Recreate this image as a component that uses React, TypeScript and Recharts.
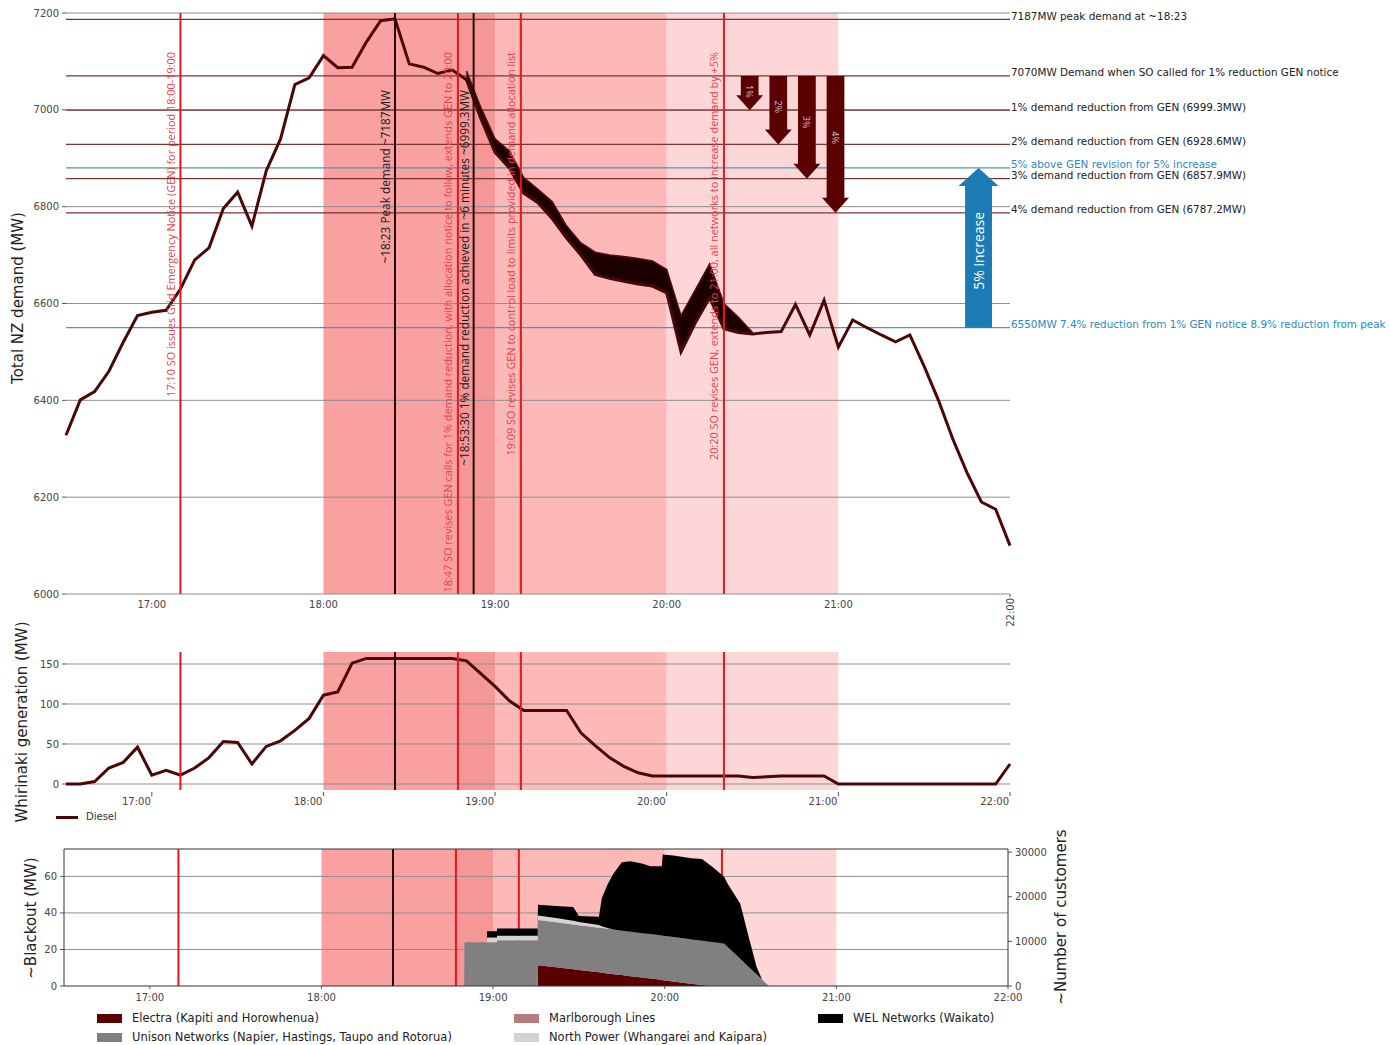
import React from "react";
import {
  ComposedChart,
  Line,
  Area,
  XAxis,
  YAxis,
  ReferenceLine,
  ReferenceArea,
} from "recharts";

const FONT = "'DejaVu Sans', sans-serif";
const NOTE_FONT = "'Open Sans', sans-serif";

// x axis is minutes after 16:30
const timeTicks = [30, 90, 150, 210, 270, 330];
const timeLabels = ["17:00", "18:00", "19:00", "20:00", "21:00", "22:00"];

// GEN periods shaded behind all three panels
const periodStarts = [90, 137, 150, 210];
const periodEnds = [137, 150, 210, 270];

// SO events
const eventMinutes = [40, 115, 137, 142.5, 159, 230];
const eventNotes = [
  "17:10 SO issues Grid Emergency Notice (GEN) for period 18:00-19:00",
  "~18:23 Peak demand ~7187MW",
  "18:47 SO revises GEN calls for 1% demand reduction, with allocation notice to follow, extends GEN to 20:00",
  "~18:53:30 1% demand reduction achieved in ~6 minutes ~6999.3MW",
  "19:09 SO revises GEN to control load to limits provided in demand allocation list",
  "20:20 SO revises GEN, extends to 21:00, all networks to increase demand by +5%",
];
const eventIsSO = [true, false, true, false, true, true];
const eventInLowerPanels = [true, true, true, false, true, true];

// total NZ demand, 5-minute samples from 16:30 to 22:00
const demandMW = [
  6328, 6401, 6418, 6460, 6520, 6575, 6582, 6586, 6630, 6690, 6715, 6796, 6830,
  6760, 6874, 6940, 7052, 7066, 7112, 7087, 7088, 7140, 7184, 7188, 7095, 7088,
  7075, 7082, 7062, 6982, 6912, 6880, 6828, 6808, 6775, 6735, 6700, 6660, 6652,
  6646, 6640, 6636, 6622, 6500, 6560, 6612, 6548, 6540, 6537, 6540, 6542, 6598,
  6535, 6607, 6510, 6566, 6550, 6535, 6521, 6535, 6470, 6400, 6320, 6250, 6190,
  6175, 6100,
];
const demandMinutes = demandMW.map((_, i) => i * 5);

// upper edge of the band during the demand reduction
const bandMinutes = [
  140, 145, 150, 155, 160, 165, 170, 175, 180, 185, 190, 195, 200, 205, 210,
  215, 220, 225, 230, 235, 240,
];
const bandHighMW = [
  7080, 7005, 6940, 6915, 6860, 6836, 6810, 6760, 6725, 6706, 6700, 6697, 6693,
  6688, 6670, 6575, 6628, 6682, 6600, 6572, 6540,
];

const demandTicks = [6000, 6200, 6400, 6600, 6800, 7000, 7200];
const refLevels = [7187, 7070, 6999.3, 6928.6, 6857.9, 6787.2];
const refTexts = [
  "7187MW peak demand at ~18:23",
  "7070MW Demand when SO called for 1% reduction GEN notice",
  "1% demand reduction from GEN (6999.3MW)",
  "2% demand reduction from GEN (6928.6MW)",
  "3% demand reduction from GEN (6857.9MW)",
  "4% demand reduction from GEN (6787.2MW)",
];
const blueLevels = [6880, 6550];
const blueTexts = [
  "5% above GEN revision for 5% increase",
  "6550MW 7.4% reduction from 1% GEN notice 8.9% reduction from peak",
];

// reduction arrows from the 7070MW level
const cutFromMW = 7070;
const cutLabels = ["1%", "2%", "3%", "4%"];
const cutTargets = [6999.3, 6928.6, 6857.9, 6787.2];
const cutMinutes = [239, 249, 259, 269];
const increaseFromMW = 6550;
const increaseToMW = 6880;
const increaseMinute = 319;

// Whirinaki diesel generation, 5-minute samples
const dieselMW = [
  0, 0, 3, 20, 27, 46, 11, 17, 11, 20, 33, 53, 52, 25, 47, 54, 67, 82, 111, 115,
  151, 157, 157, 157, 157, 157, 157, 157, 154, 138, 122, 104, 92, 92, 92, 92, 64,
  48, 33, 22, 14, 10, 10, 10, 10, 10, 10, 10, 8, 9, 10, 10, 10, 10, 0, 0, 0, 0, 0,
  0, 0, 0, 0, 0, 0, 0, 25,
];
const dieselTicks = [0, 50, 100, 150];

// blackout by network (MW, stacked)
const outageMinutes = [
  139.9, 140, 147.8, 147.9, 151.3, 151.4, 165.6, 165.7, 172, 178, 180, 187, 188,
  190, 192, 195, 198, 202, 205, 209, 209.3, 213, 217, 219.3, 223, 226.4, 230.7,
  232, 236.4, 239, 242.1, 244, 246.4,
];
const electraMW = [
  0, 0, 0, 0, 0, 0, 0, 11.4, 10.3, 9.2, 8.8, 7.5, 7.3, 6.9, 6.5, 6.0, 5.4, 4.7,
  4.1, 3.4, 3.2, 2.5, 1.7, 1.3, 0.6, 0, 0, 0, 0, 0, 0, 0, 0,
];
const unisonMW = [
  0, 24, 24, 24, 24, 25, 25, 24.7, 24.6, 24.5, 24.5, 24.4, 24.4, 24.4, 24.4,
  24.3, 24.3, 24.2, 24.3, 24.2, 24.3, 24.3, 24.3, 24.2, 24.2, 24.1, 23.3, 21.4,
  14.9, 11.0, 6.4, 3.6, 0,
];
const marlboroughMW = [
  0, 0, 0, 0, 0, 0, 0, 0, 0, 0, 0, 0, 0, 0, 0, 0, 0, 0, 0, 0, 0, 0, 0, 0, 0, 0,
  0, 0, 0, 0, 0, 0, 0,
];
const northPowerMW = [
  0, 0, 0, 2.5, 2.5, 2.5, 2.5, 2.5, 2.3, 2.0, 1.8, 1.5, 1.0, 0.5, 0, 0, 0, 0, 0,
  0, 0, 0, 0, 0, 0, 0, 0, 0, 0, 0, 0, 0, 0,
];
const welMW = [
  0, 0, 0, 3.5, 3.5, 4, 4, 5.9, 6.6, 7.5, 3.2, 4.5, 15.3, 23.8, 30.4, 37.5, 38.6,
  38.2, 37.2, 37.9, 44.5, 44.7, 44.5, 44.5, 44.7, 41.4, 36.7, 34.6, 30.1, 18,
  4.1, 0, 0,
];
const blackoutTicks = [0, 20, 40, 60];
const customerTicks = [0, 10000, 20000, 30000];

const networkNames = [
  "Electra (Kapiti and Horowhenua)",
  "Unison Networks (Napier, Hastings, Taupo and Rotorua)",
  "Marlborough Lines",
  "North Power (Whangarei and Kaipara)",
  "WEL Networks (Waikato)",
];

// styles
const SHADES = ["#f9a0a0", "#f69797", "#fdb8b8", "#fdd7d7"];
const NET_COLORS = ["#5a0000", "#808080", "#b47c7c", "#d3d3d3", "#000000"];
const RED = "#e8161b";
const DARK = "#2a0505";
const GRID = "#8f8f8f";

const demandRows = demandMinutes.map((m, i) => {
  const j = bandMinutes.indexOf(m);
  return {
    m,
    demand: demandMW[i],
    band: j >= 0 ? [demandMW[i], bandHighMW[j]] : undefined,
  };
});
const dieselRows = demandMinutes.map((m, i) => ({ m, diesel: dieselMW[i] }));
const outageRows = outageMinutes.map((m, i) => ({
  m,
  electra: electraMW[i],
  unison: unisonMW[i],
  marlborough: marlboroughMW[i],
  north: northPowerMW[i],
  wel: welMW[i],
}));

const labelFor = (v: number) => timeLabels[timeTicks.indexOf(v)] ?? "";

const TopTick = (p: any) => {
  const { x, y, payload } = p;
  if (payload.value === 330) {
    return (
      <g>
        <line x1={x} x2={x} y1={y} y2={y + 3} stroke="#555" />
        <text
          x={x}
          y={y + 4}
          transform={`rotate(-90 ${x} ${y + 4})`}
          textAnchor="end"
          dominantBaseline="central"
          fontSize={10}
          fill="#444"
          fontFamily={FONT}
        >
          {labelFor(payload.value)}
        </text>
      </g>
    );
  }
  return (
    <text x={x} y={y + 10} textAnchor="middle" dominantBaseline="central" fontSize={10} fill="#444" fontFamily={FONT}>
      {labelFor(payload.value)}
    </text>
  );
};

const MidTick = (p: any) => {
  const { x, y, payload } = p;
  return (
    <g>
      <line x1={x} x2={x} y1={y + 2} y2={y + 6} stroke="#555" />
      <text x={x - 1} y={y + 11} textAnchor="end" dominantBaseline="central" fontSize={10} fill="#444" fontFamily={FONT}>
        {labelFor(payload.value)}
      </text>
    </g>
  );
};

const BottomTick = (p: any) => {
  const { x, y, payload } = p;
  return (
    <g>
      <line x1={x} x2={x} y1={y} y2={y + 3} stroke="#555" />
      <text x={x} y={y + 11} textAnchor="middle" dominantBaseline="central" fontSize={10} fill="#444" fontFamily={FONT}>
        {labelFor(payload.value)}
      </text>
    </g>
  );
};

const sideLabel = (text: string, color: string) => (props: any) => {
  const vb = props.viewBox || {};
  return (
    <text
      x={(vb.x ?? 0) + (vb.width ?? 0) + 1}
      y={(vb.y ?? 0) - 3.5}
      dominantBaseline="central"
      fontSize={10.4}
      fill={color}
      fontFamily={FONT}
    >
      {text}
    </text>
  );
};

const eventLabel = (text: string, so: boolean) => (props: any) => {
  const vb = props.viewBox || {};
  const x = (vb.x ?? 0) - 10;
  const y = (vb.y ?? 0) + (so ? 39 : 77);
  return (
    <text
      x={x}
      y={y}
      transform={`rotate(-90 ${x} ${y})`}
      textAnchor="end"
      dominantBaseline="central"
      fontSize={so ? 10.9 : 11.8}
      fill={so ? "#e8424a" : "#1a1a1a"}
      fontFamily={NOTE_FONT}
    >
      {text}
    </text>
  );
};

const downArrow = (text: string) => (p: any) => {
  const { x, y, width, height } = p;
  const cx = x + width / 2;
  const tip = y + height;
  const neck = tip - 15;
  const half = 13.5;
  const pts = `${x},${y} ${x + width},${y} ${x + width},${neck} ${cx + half},${neck} ${cx},${tip} ${cx - half},${neck} ${x},${neck}`;
  const ty = y + height * 0.45;
  return (
    <g>
      <polygon points={pts} fill="#5a0000" />
      <text
        x={cx}
        y={ty}
        transform={`rotate(90 ${cx} ${ty})`}
        textAnchor="middle"
        dominantBaseline="central"
        fontSize={9}
        fill="#d8c4c4"
        fontFamily={NOTE_FONT}
      >
        {text}
      </text>
    </g>
  );
};

const upArrow = (text: string) => (p: any) => {
  const { x, y, width, height } = p;
  const cx = x + width / 2;
  const bottom = y + height;
  const neck = y + 18;
  const half = 20;
  const pts = `${x},${bottom} ${x + width},${bottom} ${x + width},${neck} ${cx + half},${neck} ${cx},${y} ${cx - half},${neck} ${x},${neck}`;
  const ty = (neck + bottom) / 2 - 6;
  return (
    <g>
      <polygon points={pts} fill="#1b7bb5" />
      <text
        x={cx}
        y={ty}
        transform={`rotate(-90 ${cx} ${ty})`}
        textAnchor="middle"
        dominantBaseline="central"
        fontSize={14}
        fill="#ffffff"
        fontFamily={NOTE_FONT}
      >
        {text}
      </text>
    </g>
  );
};

const VTitle = ({ cx, cy, text }: { cx: number; cy: number; text: string }) => (
  <div
    style={{
      position: "absolute",
      left: cx,
      top: cy,
      transform: "translate(-50%, -50%) rotate(-90deg)",
      whiteSpace: "nowrap",
      fontSize: 15,
      lineHeight: 1,
      color: "#222",
      fontFamily: FONT,
    }}
  >
    {text}
  </div>
);

const periodAreas = (yAxisId?: string) =>
  periodStarts.map((s, i) => (
    <ReferenceArea
      key={`p${i}`}
      x1={s}
      x2={periodEnds[i]}
      yAxisId={yAxisId}
      fill={SHADES[i]}
      fillOpacity={1}
      stroke="none"
      zIndex={10}
    />
  ));

const eventLines = (withNotes: boolean, yAxisId?: string, z = 500) =>
  eventMinutes
    .map((m, i) => ({ m, i }))
    .filter(({ i }) => withNotes || eventInLowerPanels[i])
    .map(({ m, i }) => (
      <ReferenceLine
        key={`e${i}`}
        x={m}
        yAxisId={yAxisId}
        stroke={eventIsSO[i] ? RED : DARK}
        strokeWidth={2}
        zIndex={z}
        label={withNotes ? eventLabel(eventNotes[i], eventIsSO[i]) : undefined}
      />
    ));

export default function App() {
  return (
    <div style={{ position: "absolute", left: 0, top: 0, width: 1389, height: 1045, background: "#fff", fontFamily: FONT }}>
      {/* total demand */}
      <div style={{ position: "absolute", left: 0, top: 0 }}>
        <ComposedChart width={1389} height={640} data={demandRows} margin={{ top: 13, right: 379, bottom: 0, left: 14 }}>
          <XAxis
            dataKey="m"
            type="number"
            domain={[0, 330]}
            ticks={timeTicks}
            interval={0}
            height={46}
            axisLine={false}
            tickLine={false}
            tickSize={0}
            tickMargin={0}
            tick={(p: any) => <TopTick {...p} />}
          />
          <YAxis
            type="number"
            domain={[6000, 7200]}
            ticks={demandTicks}
            interval={0}
            allowDataOverflow
            width={52}
            axisLine={false}
            tickSize={4}
            tickMargin={3}
            tickLine={{ stroke: "#555" }}
            tick={{ fontSize: 10, fill: "#444", fontFamily: FONT }}
          />
          {periodAreas()}
          {demandTicks.map((v) => (
            <ReferenceLine key={`g${v}`} y={v} stroke={GRID} strokeWidth={1} zIndex={20} />
          ))}
          {refLevels.map((v, i) => (
            <ReferenceLine
              key={`r${v}`}
              y={v}
              stroke="#7a3434"
              strokeWidth={1.2}
              zIndex={30}
              label={sideLabel(refTexts[i], "#222")}
            />
          ))}
          {blueLevels.map((v, i) => (
            <ReferenceLine
              key={`b${v}`}
              y={v}
              stroke="#4a93c4"
              strokeWidth={1.2}
              zIndex={30}
              label={sideLabel(blueTexts[i], "#2a8bc4")}
            />
          ))}
          <Area
            type="linear"
            dataKey="band"
            stroke="#5a0a0a"
            strokeWidth={1.5}
            fill="#1c0000"
            fillOpacity={1}
            dot={false}
            activeDot={false}
            isAnimationActive={false}
          />
          <Line
            type="linear"
            dataKey="demand"
            stroke="#4b0707"
            strokeWidth={3}
            dot={false}
            activeDot={false}
            isAnimationActive={false}
          />
          {eventLines(true)}
          {cutTargets.map((t, i) => (
            <ReferenceArea
              key={`c${i}`}
              x1={cutMinutes[i] - 3.1}
              x2={cutMinutes[i] + 3.1}
              y1={cutFromMW}
              y2={t}
              zIndex={600}
              shape={downArrow(cutLabels[i])}
            />
          ))}
          <ReferenceArea
            x1={increaseMinute - 4.7}
            x2={increaseMinute + 4.7}
            y1={increaseFromMW}
            y2={increaseToMW}
            zIndex={600}
            shape={upArrow("5% increase")}
          />
        </ComposedChart>
      </div>

      {/* Whirinaki generation */}
      <div style={{ position: "absolute", left: 0, top: 620 }}>
        <ComposedChart width={1389} height={190} data={dieselRows} margin={{ top: 32, right: 379, bottom: 0, left: 14 }}>
          <XAxis
            dataKey="m"
            type="number"
            domain={[0, 330]}
            ticks={timeTicks}
            interval={0}
            height={20}
            axisLine={false}
            tickLine={false}
            tickSize={0}
            tickMargin={0}
            tick={(p: any) => <MidTick {...p} />}
          />
          <YAxis
            type="number"
            domain={[-7.5, 165]}
            ticks={dieselTicks}
            interval={0}
            allowDataOverflow
            width={52}
            axisLine={false}
            tickSize={4}
            tickMargin={3}
            tickLine={{ stroke: "#555" }}
            tick={{ fontSize: 10, fill: "#444", fontFamily: FONT }}
          />
          {periodAreas()}
          {dieselTicks.map((v) => (
            <ReferenceLine key={`g${v}`} y={v} stroke={GRID} strokeWidth={1} zIndex={20} />
          ))}
          {eventLines(false)}
          <Line
            type="linear"
            dataKey="diesel"
            name="Diesel"
            stroke="#4b0707"
            strokeWidth={3}
            dot={false}
            activeDot={false}
            isAnimationActive={false}
          />
        </ComposedChart>
      </div>

      {/* blackout by network */}
      <div style={{ position: "absolute", left: 0, top: 830 }}>
        <ComposedChart width={1389} height={180} data={outageRows} margin={{ top: 19, right: 331, bottom: 0, left: 14 }}>
          <XAxis
            dataKey="m"
            type="number"
            domain={[0, 330]}
            ticks={timeTicks}
            interval={0}
            height={24}
            axisLine={false}
            tickLine={false}
            tickSize={0}
            tickMargin={0}
            tick={(p: any) => <BottomTick {...p} />}
          />
          <YAxis
            yAxisId="mw"
            type="number"
            domain={[0, 75]}
            ticks={blackoutTicks}
            interval={0}
            allowDataOverflow
            width={50}
            axisLine={false}
            tickSize={4}
            tickMargin={3}
            tickLine={{ stroke: "#555" }}
            tick={{ fontSize: 10, fill: "#444", fontFamily: FONT }}
          />
          <YAxis
            yAxisId="cust"
            orientation="right"
            type="number"
            domain={[0, 30700]}
            ticks={customerTicks}
            interval={0}
            allowDataOverflow
            width={50}
            axisLine={false}
            tickSize={4}
            tickMargin={3}
            tickLine={{ stroke: "#555" }}
            tick={{ fontSize: 10, fill: "#444", fontFamily: FONT, textAnchor: "start" }}
          />
          {periodAreas("mw")}
          {[20, 40, 60].map((v) => (
            <ReferenceLine key={`g${v}`} y={v} yAxisId="mw" stroke={GRID} strokeWidth={1} zIndex={20} />
          ))}
          {eventLines(false, "mw", 40)}
          {["electra", "unison", "marlborough", "north", "wel"].map((k, i) => (
            <Area
              key={k}
              yAxisId="mw"
              type="linear"
              dataKey={k}
              name={networkNames[i]}
              stackId="net"
              stroke="none"
              fill={NET_COLORS[i]}
              fillOpacity={1}
              dot={false}
              activeDot={false}
              isAnimationActive={false}
            />
          ))}
          <ReferenceArea x1={0} x2={330} y1={0} y2={75} yAxisId="mw" fill="none" stroke="#333" strokeWidth={1} zIndex={700} />
        </ComposedChart>
      </div>

      <VTitle cx={18} cy={298} text="Total NZ demand (MW)" />
      <VTitle cx={22} cy={722} text="Whirinaki generation (MW)" />
      <VTitle cx={31} cy={918} text="~Blackout (MW)" />
      <VTitle cx={1061} cy={917} text="~Number of customers" />

      {/* Diesel legend */}
      <div style={{ position: "absolute", left: 56, top: 816, width: 22, height: 3, background: "#4b0707" }} />
      <div style={{ position: "absolute", left: 86, top: 811, fontSize: 10, color: "#333", lineHeight: "12px" }}>Diesel</div>

      {/* network legend */}
      {networkNames.map((n, i) => {
        const col = [97, 97, 514, 514, 818][i];
        const top = [1013, 1032, 1013, 1032, 1013][i];
        return (
          <div key={n} style={{ position: "absolute", left: col, top, display: "flex", alignItems: "center", whiteSpace: "nowrap" }}>
            <div style={{ width: 25, height: 9, background: NET_COLORS[i], marginRight: 10 }} />
            <span style={{ fontSize: 11.5, color: "#222", lineHeight: "11px" }}>{n}</span>
          </div>
        );
      })}
    </div>
  );
}
